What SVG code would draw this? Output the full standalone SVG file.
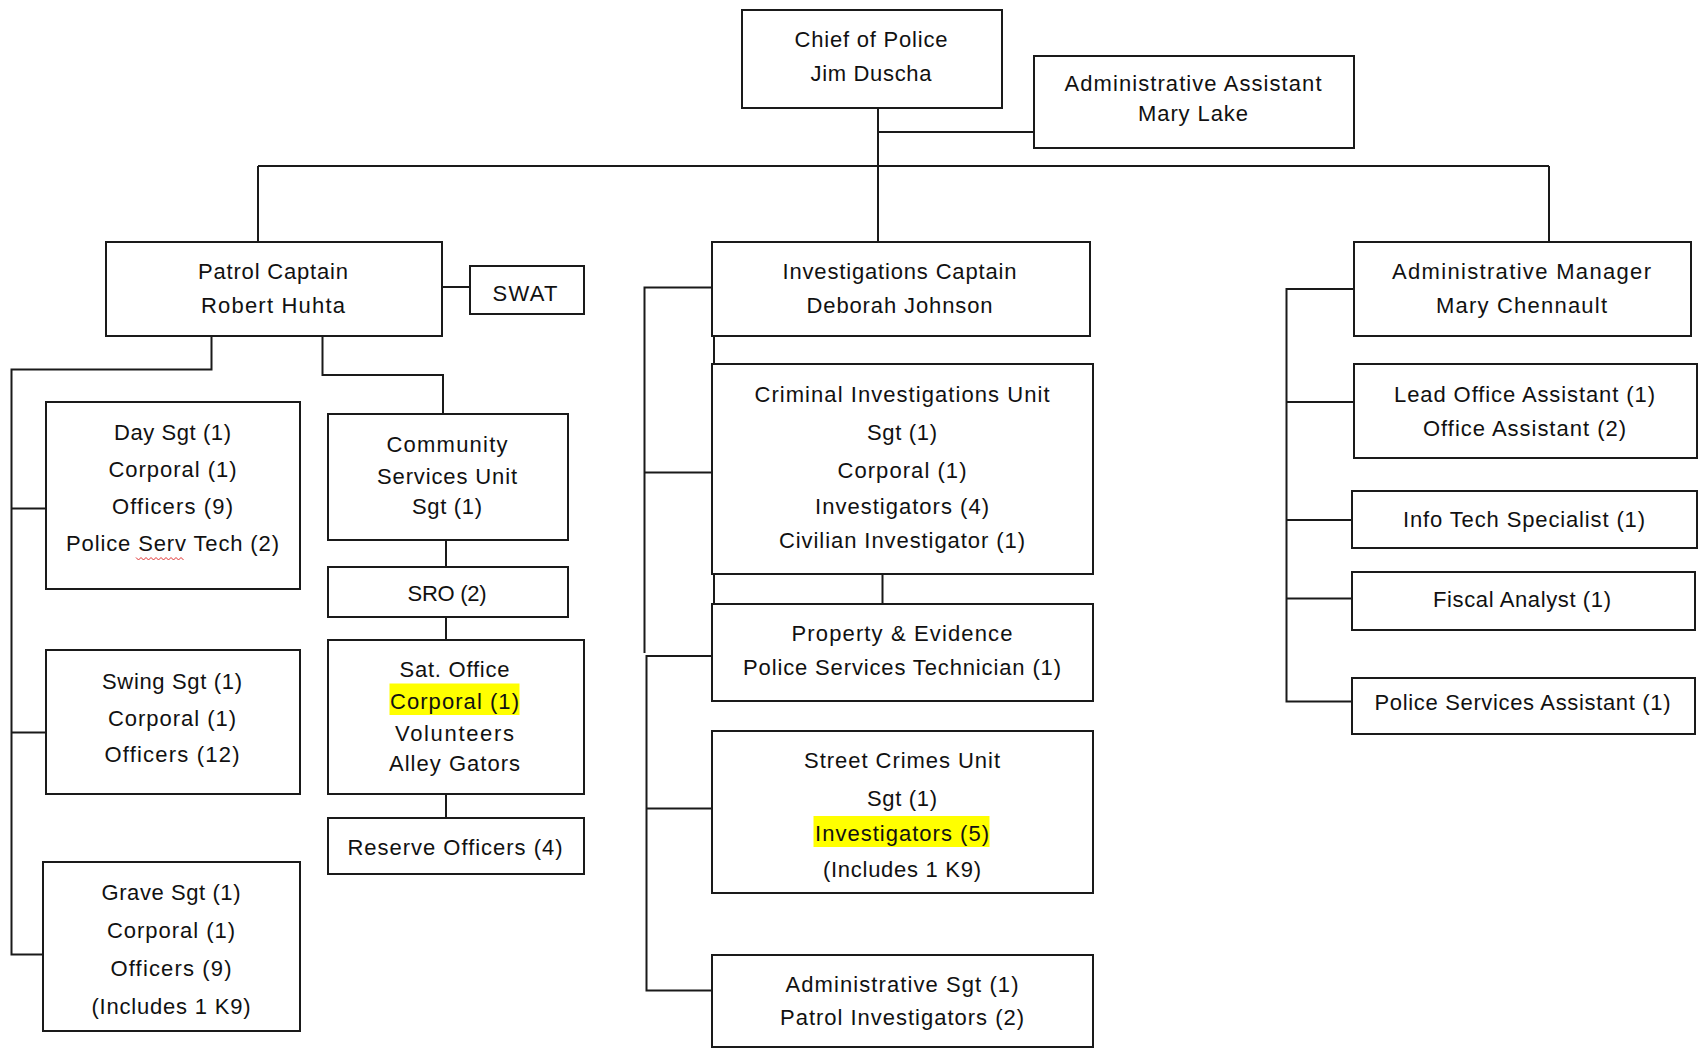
<svg xmlns="http://www.w3.org/2000/svg" width="1700" height="1053" viewBox="0 0 1700 1053">
<style>
.box{fill:#fff;stroke:#1a1a1a;stroke-width:2}
.t{font-family:"Liberation Sans",Arial,sans-serif;font-size:22px;fill:#111;text-anchor:middle}
.c{stroke:#1a1a1a;stroke-width:2;fill:none}
.hl{fill:#ffff00}
</style>
<rect width="1700" height="1053" fill="#fff"/>
<g id="connectors">
<path class="c" d="M878 108V242M878 132H1034M258 166H1549M258 166V242M1549 166V242M442 287H470"/>
<path class="c" d="M211.5 336V369.5H11.5V954.5H43M11.5 508.5H46M11.5 732.5H46"/>
<path class="c" d="M322.5 336V375H443V414M446 540V567M446 617V640M446 794V818"/>
<path class="c" d="M712 287.5H644.5V653M644.5 472.5H712M714 287V364M714 574V604M882.5 574V604"/>
<path class="c" d="M712 656H646.5V990.5H712M646.5 808.5H712"/>
<path class="c" d="M1354 289H1286.5V701.5H1352M1286.5 402H1354M1286.5 520H1352M1286.5 598.5H1352"/>
</g>
<g id="chief"><rect class="box" x="742" y="10" width="260" height="98"/>
<text class="t" x="871" y="47" textLength="153">Chief of Police</text>
<text class="t" x="871" y="80.5" textLength="121">Jim Duscha</text></g>
<g id="adminAssistant"><rect class="box" x="1034" y="56" width="320" height="92"/>
<text class="t" x="1193" y="90.5" textLength="257">Administrative Assistant</text>
<text class="t" x="1193" y="120.5" textLength="110">Mary Lake</text></g>
<g id="patrolCaptain"><rect class="box" x="106" y="242" width="336" height="94"/>
<text class="t" x="273" y="278.5" textLength="150">Patrol Captain</text>
<text class="t" x="273" y="312.5" textLength="144">Robert Huhta</text></g>
<g id="swat"><rect class="box" x="470" y="266" width="114" height="48"/>
<text class="t" x="525" y="301" textLength="65">SWAT</text></g>
<g id="investigationsCaptain"><rect class="box" x="712" y="242" width="378" height="94"/>
<text class="t" x="899.5" y="278.5" textLength="234">Investigations Captain</text>
<text class="t" x="899.5" y="312.5" textLength="186">Deborah Johnson</text></g>
<g id="adminManager"><rect class="box" x="1354" y="242" width="337" height="94"/>
<text class="t" x="1521.5" y="278.5" textLength="259">Administrative Manager</text>
<text class="t" x="1521.5" y="312.5" textLength="171">Mary Chennault</text></g>
<g id="daySgt"><rect class="box" x="46" y="402" width="254" height="187"/>
<text class="t" x="172.5" y="439.5" textLength="117">Day Sgt (1)</text>
<text class="t" x="172.5" y="476.5" textLength="128">Corporal (1)</text>
<text class="t" x="172.5" y="513.5" textLength="121">Officers (9)</text>
<text class="t" x="172.5" y="551" textLength="213">Police Serv Tech (2)</text>
<path d="M136 557.5l2.5 2.5 2.5-2.5 2.5 2.5 2.5-2.5 2.5 2.5 2.5-2.5 2.5 2.5 2.5-2.5 2.5 2.5 2.5-2.5 2.5 2.5 2.5-2.5 2.5 2.5 2.5-2.5 2.5 2.5 2.5-2.5 2.5 2.5 2.5-2.5 2.5 2.5" fill="none" stroke="#e03030" stroke-width="1"/></g>
<g id="swingSgt"><rect class="box" x="46" y="650" width="254" height="144"/>
<text class="t" x="172" y="689" textLength="140">Swing Sgt (1)</text>
<text class="t" x="172" y="725.5" textLength="128">Corporal (1)</text>
<text class="t" x="172" y="761.5" textLength="135">Officers (12)</text></g>
<g id="graveSgt"><rect class="box" x="43" y="862" width="257" height="169"/>
<text class="t" x="171" y="899.5" textLength="139">Grave Sgt (1)</text>
<text class="t" x="171" y="937.5" textLength="128">Corporal (1)</text>
<text class="t" x="171" y="975.5" textLength="121">Officers (9)</text>
<text class="t" x="171" y="1013.5" textLength="159">(Includes 1 K9)</text></g>
<g id="csu"><rect class="box" x="328" y="414" width="240" height="126"/>
<text class="t" x="447" y="451.5" textLength="121">Community</text>
<text class="t" x="447" y="483.5" textLength="140">Services Unit</text>
<text class="t" x="447" y="513.5" textLength="70">Sgt (1)</text></g>
<g id="sro"><rect class="box" x="328" y="567" width="240" height="50"/>
<text class="t" x="447" y="601" textLength="79">SRO (2)</text></g>
<g id="satOffice"><rect class="box" x="328" y="640" width="256" height="154"/>
<rect class="hl" x="389.5" y="683.5" width="130" height="31.5"/>
<text class="t" x="454.5" y="676.5" textLength="110">Sat. Office</text>
<text class="t" x="454.5" y="709" textLength="129">Corporal (1)</text>
<text class="t" x="454.5" y="741" textLength="119">Volunteers</text>
<text class="t" x="454.5" y="771" textLength="131">Alley Gators</text></g>
<g id="reserve"><rect class="box" x="328" y="818" width="256" height="56"/>
<text class="t" x="455" y="855" textLength="215">Reserve Officers (4)</text></g>
<g id="ciu"><rect class="box" x="712" y="364" width="381" height="210"/>
<text class="t" x="902" y="401.5" textLength="295">Criminal Investigations Unit</text>
<text class="t" x="902" y="439.5" textLength="70">Sgt (1)</text>
<text class="t" x="902" y="477.5" textLength="129">Corporal (1)</text>
<text class="t" x="902" y="513.5" textLength="174">Investigators (4)</text>
<text class="t" x="902" y="547.5" textLength="246">Civilian Investigator (1)</text></g>
<g id="propertyEvidence"><rect class="box" x="712" y="604" width="381" height="97"/>
<text class="t" x="902" y="641" textLength="221">Property &amp; Evidence</text>
<text class="t" x="902" y="675" textLength="318">Police Services Technician (1)</text></g>
<g id="streetCrimes"><rect class="box" x="712" y="731" width="381" height="162"/>
<rect class="hl" x="813.5" y="816" width="176" height="31"/>
<text class="t" x="902" y="767.5" textLength="196">Street Crimes Unit</text>
<text class="t" x="902" y="806" textLength="70">Sgt (1)</text>
<text class="t" x="902" y="841" textLength="174">Investigators (5)</text>
<text class="t" x="902" y="876.5" textLength="158">(Includes 1 K9)</text></g>
<g id="adminSgt"><rect class="box" x="712" y="955" width="381" height="92"/>
<text class="t" x="902" y="991.5" textLength="233">Administrative Sgt (1)</text>
<text class="t" x="902" y="1025" textLength="244">Patrol Investigators (2)</text></g>
<g id="leadOffice"><rect class="box" x="1354" y="364" width="343" height="94"/>
<text class="t" x="1524.5" y="401.5" textLength="261">Lead Office Assistant (1)</text>
<text class="t" x="1524.5" y="435.5" textLength="203">Office Assistant (2)</text></g>
<g id="infoTech"><rect class="box" x="1352" y="491" width="345" height="57"/>
<text class="t" x="1524" y="526.5" textLength="242">Info Tech Specialist (1)</text></g>
<g id="fiscal"><rect class="box" x="1352" y="572" width="343" height="58"/>
<text class="t" x="1522" y="606.5" textLength="178">Fiscal Analyst (1)</text></g>
<g id="psa"><rect class="box" x="1352" y="678" width="343" height="56"/>
<text class="t" x="1522.5" y="710" textLength="296">Police Services Assistant (1)</text></g>
</svg>
